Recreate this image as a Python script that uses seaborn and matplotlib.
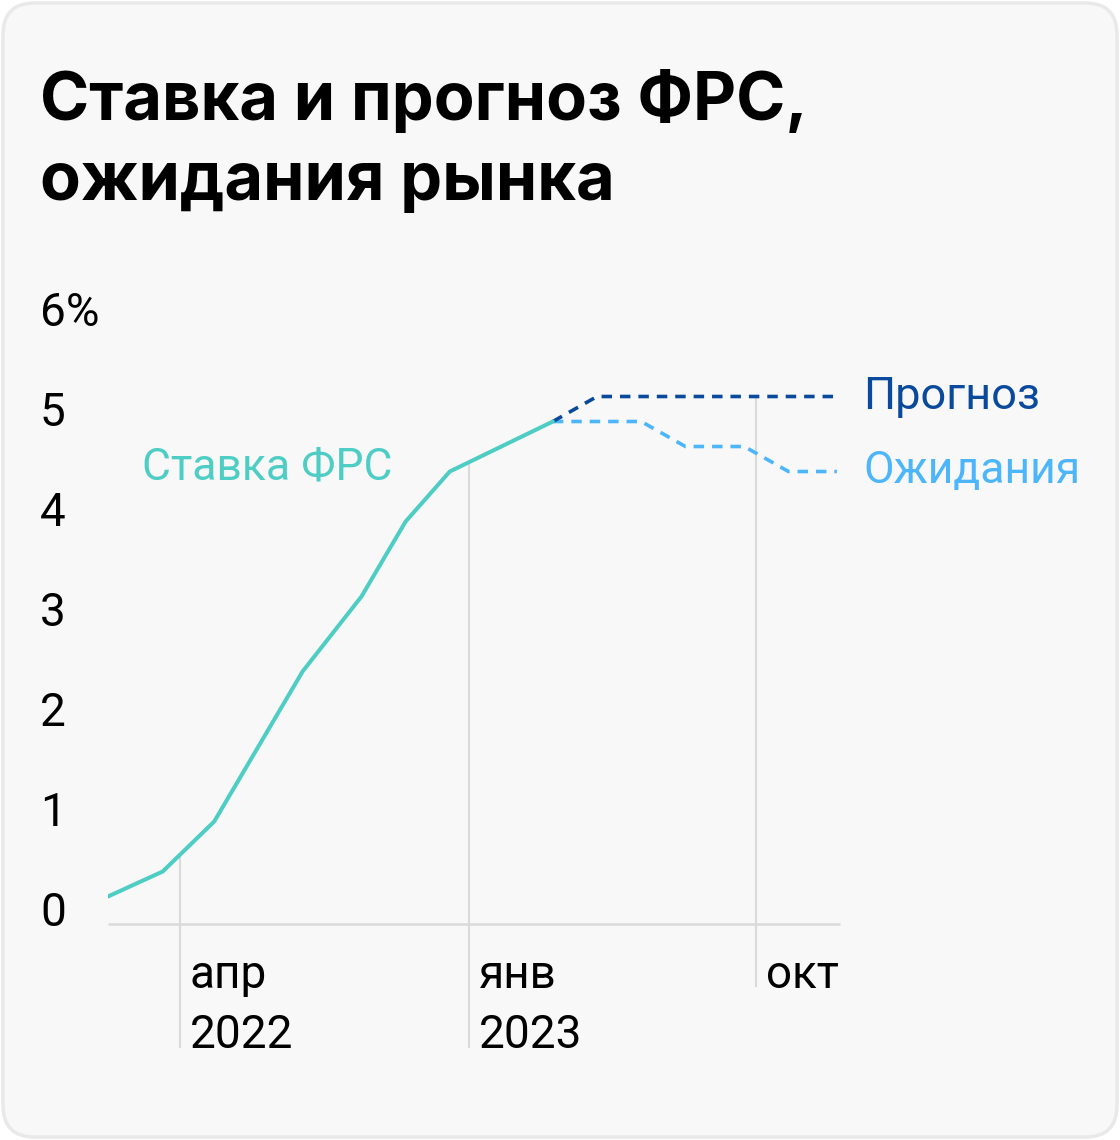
import numpy as np
import pandas as pd
import matplotlib
matplotlib.use("Agg")
import matplotlib.pyplot as plt
import matplotlib.dates as mdates
from matplotlib.patches import FancyBboxPatch
import seaborn as sns

# ---- data ----
rate_dates = ["2022-01-23", "2022-03-16", "2022-05-04", "2022-06-15", "2022-07-27",
              "2022-09-21", "2022-11-02", "2022-12-14", "2023-02-01", "2023-03-22"]
rate_values = [0.125, 0.375, 0.875, 1.625, 2.375, 3.125, 3.875, 4.375, 4.625, 4.875]

forecast_dates = ["2023-03-22", "2023-05-03", "2023-12-17"]
forecast_values = [4.875, 5.125, 5.125]

expect_dates = ["2023-03-22", "2023-06-14", "2023-07-26", "2023-09-20", "2023-11-01", "2023-12-17"]
expect_values = [4.875, 4.875, 4.625, 4.625, 4.375, 4.375]

ytick_values = [0, 1, 2, 3, 4, 5, 6]
ytick_labels = ["0", "1", "2", "3", "4", "5", "6%"]

xtick_dates = ["2022-04-01", "2023-01-01", "2023-10-01"]
xtick_month = ["апр", "янв", "окт"]
xtick_year = ["2022", "2023", ""]

title_lines = ["Ставка и прогноз ФРС,", "ожидания рынка"]
label_rate = "Ставка ФРС"
label_forecast = "Прогноз"
label_expect = "Ожидания"

# ---- style ----
C_RATE = "#4ecdc4"
C_FORE = "#0a4a9c"
C_EXP = "#4db6fb"
C_GRID = "#dadada"
BG = "#f8f8f8"

sns.set_theme(style="white")
plt.rcParams["font.family"] = ["Roboto", "DejaVu Sans"]

W, H = 1120, 1140
fig = plt.figure(figsize=(W / 100, H / 100), dpi=100)
fig.patch.set_facecolor("white")

card = FancyBboxPatch((3 / W, 3 / H), (W - 6) / W, (H - 6) / H,
                      boxstyle="round,pad=0,rounding_size=0.028",
                      transform=fig.transFigure, facecolor=BG, edgecolor="#e9e9e9",
                      linewidth=2.5, zorder=-10)
fig.patches.append(card)

for i, line in enumerate(title_lines):
    fig.text(40 / W, 1 - (120 + 80 * i) / H, line, fontsize=48, fontweight="bold",
             family=["Inter", "DejaVu Sans"], color="black", va="baseline", ha="left")

x0, x1 = 108, 840
y_top, y_bot = 309, 924
ax = fig.add_axes([x0 / W, 1 - y_bot / H, (x1 - x0) / W, (y_bot - y_top) / H])
ax.set_facecolor("none")
ax.set_zorder(5)

x_end = pd.Timestamp("2023-12-20")

rate_df = pd.DataFrame({"date": pd.to_datetime(rate_dates), "value": rate_values})
fore_df = pd.DataFrame({"date": pd.to_datetime(forecast_dates), "value": forecast_values})
exp_df = pd.DataFrame({"date": pd.to_datetime(expect_dates), "value": expect_values})

# gridlines from upper curve down below tick labels
upper_df = pd.concat([rate_df, fore_df.iloc[1:]])
upper_num = mdates.date2num(upper_df["date"])
tick_dt = pd.to_datetime(xtick_dates)
tick_num = mdates.date2num(tick_dt)
grid_top = np.interp(tick_num, upper_num, upper_df["value"].to_numpy())
grid_bottom = [-1.39, -1.39, -0.78]
for xd, yt, yb in zip(tick_dt, grid_top, grid_bottom):
    ax.vlines(xd, yb, yt, color=C_GRID, lw=1.5, clip_on=False, zorder=1)

ax.hlines(-0.15, rate_df["date"].iloc[0], x_end,
          color=C_GRID, lw=1.8, zorder=1, clip_on=False)

sns.lineplot(data=exp_df, x="date", y="value", ax=ax, color=C_EXP, lw=2.6, zorder=3)
ax.lines[-1].set_dashes([2.9, 2.2])
sns.lineplot(data=fore_df, x="date", y="value", ax=ax, color=C_FORE, lw=2.6, zorder=4)
ax.lines[-1].set_dashes([2.9, 2.2])
sns.lineplot(data=rate_df, x="date", y="value", ax=ax, color=C_RATE, lw=2.9, zorder=5)

ax.set_xlim(rate_df["date"].iloc[0], x_end)
ax.set_ylim(-0.15, 6.0)
ax.set_xlabel("")
ax.set_ylabel("")
for s in ax.spines.values():
    s.set_visible(False)

ax.set_xticks([])
ax.set_yticks(ytick_values)
ax.set_yticklabels(ytick_labels, fontsize=33, color="black")
ax.tick_params(axis="y", length=0, pad=(x0 - 40) * 0.72)
for t in ax.get_yticklabels():
    t.set_ha("left")

for xd, m, y in zip(tick_dt, xtick_month, xtick_year):
    ax.annotate(m, xy=(xd, -0.79), xycoords="data", xytext=(7.5, 0),
                textcoords="offset points", ha="left", va="baseline",
                fontsize=33, color="black", annotation_clip=False)
    if y:
        ax.annotate(y, xy=(xd, -1.39), xycoords="data", xytext=(7.5, 0),
                    textcoords="offset points", ha="left", va="baseline",
                    fontsize=33, color="black", annotation_clip=False)

fig.text(142 / W, 1 - 468 / H, label_rate, fontsize=32, color=C_RATE,
         ha="left", va="center")
ax.annotate(label_forecast, xy=(fore_df["date"].iloc[-1], fore_df["value"].iloc[-1]),
            xytext=(19, 0), textcoords="offset points", ha="left", va="center",
            fontsize=32.5, color=C_FORE, annotation_clip=False)
ax.annotate(label_expect, xy=(exp_df["date"].iloc[-1], exp_df["value"].iloc[-1]),
            xytext=(19, 0), textcoords="offset points", ha="left", va="center",
            fontsize=32, color=C_EXP, annotation_clip=False)

fig.savefig("out.png", dpi=100, facecolor=fig.get_facecolor())
